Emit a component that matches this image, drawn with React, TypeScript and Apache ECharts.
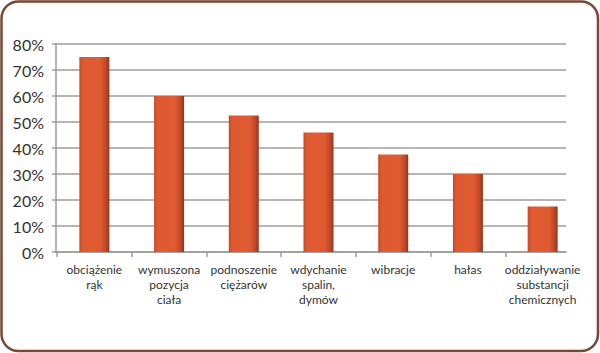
import React, { useEffect, useRef } from "react";
import * as echarts from "echarts";

const categories = [
  "obciążenie\nrąk",
  "wymuszona\npozycja\nciała",
  "podnoszenie\nciężarów",
  "wdychanie\nspalin,\ndymów",
  "wibracje",
  "hałas",
  "oddziaływanie\nsubstancji\nchemicznych",
];
const values = [75, 60, 52.5, 46, 37.5, 30, 17.5];
const yMin = 0;
const yMax = 80;
const yStep = 10;

export default function App() {
  const ref = useRef<HTMLDivElement>(null);
  useEffect(() => {
    if (!ref.current) return;
    const chart = echarts.init(ref.current, null, { renderer: "svg" });
    const gridColor = "#9c9c9c";
    const font = "Lato, 'Open Sans', sans-serif";
    chart.setOption({
      animation: false,
      backgroundColor: "#ffffff",
      grid: [
        { left: 56, right: 34, top: 44, bottom: 101 },
        { left: 57, right: 20, top: 44, bottom: 101 },
      ],
      xAxis: [
        {
          type: "category",
          gridIndex: 0,
          data: categories,
          axisLine: { show: true, lineStyle: { color: gridColor, width: 1.5 } },
          axisTick: { show: false },
          axisLabel: { show: false },
          splitLine: { show: false },
        },
        {
          type: "category",
          gridIndex: 1,
          data: categories,
          axisLine: { show: false },
          axisTick: { show: true, length: 5, lineStyle: { color: gridColor, width: 1.5 } },
          axisLabel: {
            interval: 0,
            margin: 10,
            color: "#333333",
            fontFamily: font,
            fontSize: 12,
            lineHeight: 15,
          },
        },
      ],
      yAxis: [
        {
          type: "value",
          gridIndex: 0,
          min: yMin,
          max: yMax,
          interval: yStep,
          axisLine: { show: true, lineStyle: { color: gridColor, width: 1.5 } },
          axisTick: { show: true, length: 4, lineStyle: { color: gridColor, width: 1.5 } },
          axisLabel: {
            formatter: "{value}%",
            color: "#333333",
            fontFamily: font,
            fontSize: 16,
            margin: 12,
          },
          splitLine: { show: true, lineStyle: { color: gridColor, width: 1.5 } },
        },
        {
          type: "value",
          gridIndex: 1,
          min: yMin,
          max: yMax,
          interval: yStep,
          show: false,
          splitLine: { show: false },
        },
      ],
      series: [
        {
          type: "bar",
          xAxisIndex: 1,
          yAxisIndex: 1,
          data: values,
          barWidth: 30,
          itemStyle: {
            color: new echarts.graphic.LinearGradient(0, 0, 1, 0, [
              { offset: 0, color: "#c44a28" },
              { offset: 0.12, color: "#e05a30" },
              { offset: 0.7, color: "#df5b31" },
              { offset: 0.88, color: "#c24826" },
              { offset: 1, color: "#933520" },
            ]),
          },
        },
      ],
      graphic: [
        {
          type: "rect",
          shape: { x: 570, y: 238, width: 20, height: 24 },
          style: { fill: "#ffffff" },
          silent: true,
          z: 100,
        },
        {
          type: "rect",
          shape: { x: 1.5, y: 1.5, width: 596.5, height: 349.5, r: 17 },
          style: { fill: "none", stroke: "#7a4636", lineWidth: 2.5 },
          silent: true,
          z: 101,
        },
      ],
    });
    return () => chart.dispose();
  }, []);
  return (
    <div
      ref={ref}
      style={{ position: "absolute", left: 0, top: 0, width: 600, height: 353, background: "#fff" }}
    />
  );
}
